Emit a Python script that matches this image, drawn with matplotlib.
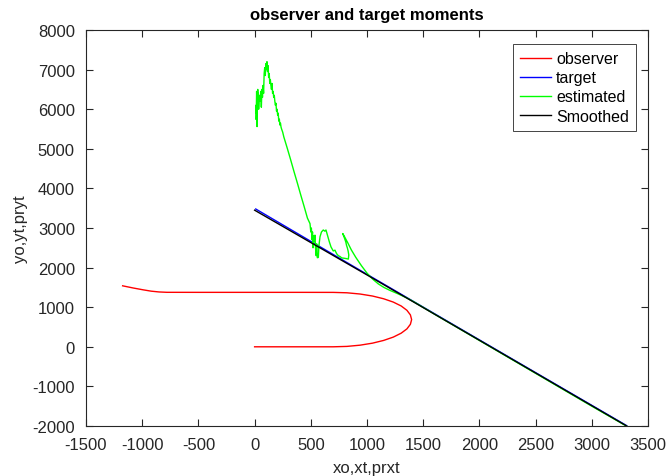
import matplotlib
matplotlib.use("Agg")
import matplotlib.pyplot as plt

plt.rcParams['font.family'] = ['Liberation Sans', 'DejaVu Sans']
plt.rcParams['axes.unicode_minus'] = False

# observer track
obs_x = [0, 200, 400, 600, 700, 821, 938, 1049, 1148, 1234, 1304, 1355, 1386, 1397,
         1386, 1355, 1304, 1234, 1148, 1049, 938, 821, 700, 400, 100, -200, -500,
         -780, -850, -920, -990, -1080, -1174]
obs_y = [0, 0, 0, 0, 0, 10, 41, 92, 161, 245, 344, 452, 568, 687,
         806, 922, 1031, 1129, 1213, 1282, 1333, 1364, 1374, 1375, 1375, 1375, 1375,
         1376, 1385, 1405, 1438, 1485, 1540]

# target track
tgt_x = [10, 1000, 2000, 3310]
tgt_y = [3480, 1830, 175, -1990]

# estimated track
est_x = [10, 12, 15, 18, 20, 22, 25, 28, 30, 33, 36, 40, 45, 50, 55, 60, 65, 70, 75, 80,
         85, 90, 95, 100, 105, 110, 115, 120, 125, 130, 135, 140, 145, 150, 155, 160,
         165, 170, 175, 180, 185, 190, 195, 200, 205, 210, 215, 220, 225, 230, 235, 240,
         250, 260, 290, 320, 350, 380, 410, 440, 470, 493,
         500, 505, 508, 512, 515, 520, 525, 530, 537, 542, 548, 552, 558, 567, 572, 582,
         595, 611, 625, 635, 650, 665, 680, 700, 715, 730, 745, 760, 775, 800, 820, 834,
         838, 832, 825, 818, 812, 805, 795, 784, 800, 830, 860, 900, 950, 1000, 1050,
         1100, 1150, 1200, 1278, 1350, 1420, 1600, 2000, 2500, 3000, 3310]
est_y = [5750, 6100, 5900, 6450, 6200, 5560, 6300, 6500, 6150, 6400, 6000, 6250, 6350,
         6200, 6450, 6050, 6500, 6300, 6600, 6400, 6900, 7050, 6850, 7150, 7000, 7200,
         6950, 7100, 6800, 6900, 6650, 6750, 6600, 6500, 6650, 6400, 6450, 6300, 6350,
         6200, 6100, 6150, 5950, 6000, 5850, 5900, 5700, 5750, 5600, 5650, 5550, 5500,
         5420, 5300, 5020, 4730, 4430, 4140, 3840, 3550, 3250, 3110,
         2900, 3000, 2860, 2700, 2900, 2500, 2800, 2650, 2820, 2500, 2300, 2600, 2250,
         2257, 2550, 2780, 2900, 2950, 2920, 2950, 2800, 2650, 2520, 2420, 2440, 2350,
         2300, 2280, 2245, 2235, 2225, 2215, 2320, 2420, 2500, 2560, 2640, 2700, 2780,
         2860, 2780, 2620, 2450, 2260, 2050, 1860, 1710, 1590, 1500, 1430, 1335, 1240,
         1130, 825, 160, -670, -1500, -2005]

# smoothed track
smo_x = [0, 1000, 2000, 3310]
smo_y = [3450, 1815, 165, -2000]

fig = plt.figure(figsize=(6.67, 4.77), dpi=100)
ax = fig.add_axes([86 / 667, 1 - 427 / 477, (648 - 86) / 667, (427 - 31) / 477])

ax.plot(obs_x, obs_y, color='red', lw=1.0, label='observer')
ax.plot(tgt_x, tgt_y, color='blue', lw=1.0, label='target')
ax.plot(est_x, est_y, color='#00ff00', lw=1.0, label='estimated')
ax.plot(smo_x, smo_y, color='black', lw=1.0, label='Smoothed')

ax.set_xlim(-1500, 3500)
ax.set_ylim(-2000, 8000)
ax.set_xticks(range(-1500, 3501, 500))
ax.set_yticks(range(-2000, 8001, 1000))
ax.tick_params(direction='in', top=True, right=True, length=5, labelsize=12,
               colors='#262626')
ax.tick_params(axis='x', pad=8)
ax.tick_params(axis='y', pad=8)
for s in ax.spines.values():
    s.set_color('#262626')
    s.set_linewidth(0.8)

ax.set_title('observer and target moments', fontsize=12, fontweight='bold', pad=8)
ax.set_xlabel('xo,xt,prxt', fontsize=12, color='#262626', labelpad=6)
ax.set_ylabel('yo,yt,pryt', fontsize=12, color='#262626', labelpad=3)

leg = ax.legend(loc='upper right', bbox_to_anchor=((636 - 86) / 562, (427 - 45) / 396),
                borderaxespad=0, fontsize=11.5, fancybox=False, edgecolor='#262626',
                framealpha=1, handlelength=1.95, handletextpad=0.3,
                labelspacing=0.26, borderpad=0.45)
leg.get_frame().set_linewidth(0.6)

fig.savefig('out.png', dpi=100)
